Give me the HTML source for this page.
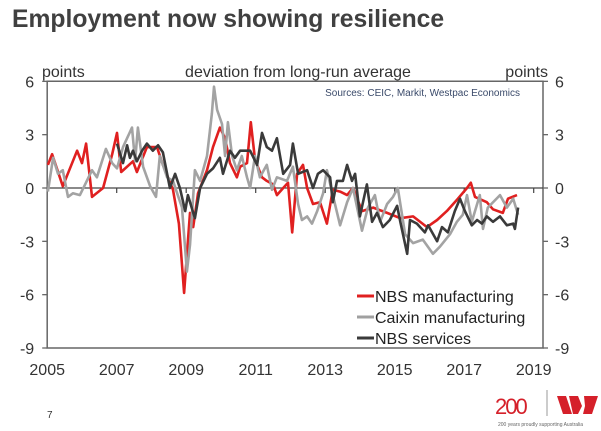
<!DOCTYPE html>
<html><head><meta charset="utf-8"><style>
body{margin:0;background:#fff;width:601px;height:431px;overflow:hidden;font-family:"Liberation Sans",sans-serif;}
</style></head><body>
<svg width="601" height="431" style="position:absolute;left:0;top:0">
<text x="12" y="27" font-size="24.7" font-weight="bold" fill="#404040">Employment now showing resilience</text>
<g font-size="16" fill="#333">
<text x="42" y="77">points</text>
<text x="298" y="77" text-anchor="middle">deviation from long-run average</text>
<text x="548" y="77" text-anchor="end">points</text>
</g>
<text x="520" y="96" font-size="10" text-anchor="end" fill="#3a4a6a">Sources: CEIC, Markit, Westpac Economics</text>
<g id="axes"></g>
<g id="series"></g>
<g font-size="16" fill="#222">
<line x1="357" y1="296" x2="374" y2="296" stroke="#e02020" stroke-width="3"/>
<text x="375" y="302">NBS manufacturing</text>
<line x1="357" y1="317" x2="374" y2="317" stroke="#a0a0a0" stroke-width="3"/>
<text x="375" y="323">Caixin manufacturing</text>
<line x1="357" y1="338" x2="374" y2="338" stroke="#3a3a3a" stroke-width="3"/>
<text x="375" y="344">NBS services</text>
</g>
<text x="47" y="418" font-size="10" fill="#333">7</text>
<g>
<text x="495" y="414" font-size="22" fill="#d5202a" letter-spacing="-2">200</text>
<line x1="547" y1="390" x2="547" y2="416" stroke="#999" stroke-width="1"/>
<polygon points="557,396 566,396 572,414 563,414" fill="#d5202a"/>
<polygon points="569,396 578,396 582,406 578,414 573,414" fill="#d5202a"/>
<polygon points="584,396 598,396 592,414 583,414 585,406" fill="#d5202a"/>
<text x="498" y="426" font-size="5" fill="#666">200 years proudly supporting Australia</text>
</g>
</svg>
<script>
const yTicks=[6,3,0,-3,-6,-9];
const xTickYears=[2005,2007,2009,2011,2013,2015,2017,2019];
const nbsMfgYears=[2005.02,2005.14,2005.45,2005.86,2006.0,2006.12,2006.29,2006.61,2006.87,2007.01,2007.13,2007.47,2007.58,2007.87,2008.16,2008.33,2008.62,2008.79,2008.94,2009.11,2009.2,2009.34,2009.6,2009.77,2009.97,2010.12,2010.26,2010.46,2010.55,2010.75,2010.86,2010.98,2011.18,2011.32,2011.5,2011.61,2011.79,2011.93,2012.05,2012.19,2012.36,2012.48,2012.65,2012.85,2013.05,2013.22,2013.43,2013.63,2013.8,2014.06,2014.38,2014.78,2015.16,2015.53,2015.93,2016.22,2016.5,2016.82,2017.08,2017.19,2017.31,2017.65,2017.83,2018.11,2018.26,2018.52];
const nbsMfgValues=[1.3,1.9,0.1,2.1,1.4,2.5,-0.5,0,1.9,3.1,0.9,1.5,0.9,2.3,2.3,1.3,-0.1,-2.0,-5.9,-1.4,-2.2,-0.3,1.0,2.3,3.4,2.8,1.4,0.6,1.2,1.4,3.7,1.6,0.6,0.4,0.2,-0.4,0,0.3,-2.5,0.8,1.3,0,-0.9,-0.8,-2.0,-0.1,-0.2,-0.4,0,-1.3,-1.1,-1.4,-1.7,-1.6,-2.2,-1.8,-1.3,-0.6,0,0.3,-0.5,-0.8,-1.2,-1.4,-0.6,-0.4];
const caixinYears=[2005.02,2005.17,2005.31,2005.45,2005.6,2005.74,2005.94,2006.09,2006.29,2006.43,2006.69,2006.87,2007.01,2007.18,2007.44,2007.53,2007.61,2007.76,2007.96,2008.13,2008.24,2008.45,2008.62,2008.88,2009.02,2009.11,2009.25,2009.4,2009.6,2009.74,2009.8,2009.89,2010.03,2010.12,2010.2,2010.32,2010.46,2010.6,2010.75,2010.84,2010.98,2011.12,2011.32,2011.47,2011.61,2011.9,2012.07,2012.22,2012.33,2012.48,2012.62,2012.77,2012.94,2013.05,2013.22,2013.43,2013.63,2013.8,2014.06,2014.23,2014.43,2014.58,2014.78,2014.95,2015.09,2015.3,2015.53,2015.81,2016.1,2016.3,2016.59,2016.79,2016.96,2017.08,2017.22,2017.45,2017.54,2017.68,2018.03,2018.23,2018.41,2018.55];
const caixinValues=[-0.2,1.7,0.8,1.0,-0.5,-0.3,-0.4,0.2,1.0,0.6,2.2,1.4,1.1,2.3,3.4,1.5,3.4,1.2,0.1,-0.5,1.8,0.6,0.4,-1.1,-4.7,-3.2,1.0,0.4,1.8,4.2,5.7,4.4,3.6,1.8,3.7,1.8,1.0,1.8,0.6,0,1.8,0.6,1.3,-0.1,0.6,0.4,1.2,-0.9,-1.8,-1.6,-2.0,-1.3,-0.3,1.0,-0.4,-2.1,-0.8,0,-2.4,-1.1,-0.4,-1.9,-0.9,-0.5,0,-2.6,-3.1,-2.9,-3.7,-3.3,-2.6,-1.9,-1.5,-0.4,-1.9,-0.4,-2.3,-1.1,-0.4,-1.1,-0.6,-1.5];
const nbsSvcYears=[2007.01,2007.18,2007.3,2007.38,2007.47,2007.58,2007.73,2007.87,2008.04,2008.19,2008.33,2008.53,2008.68,2008.82,2008.97,2009.05,2009.25,2009.4,2009.6,2009.77,2009.97,2010.06,2010.26,2010.4,2010.55,2010.84,2011.04,2011.18,2011.32,2011.47,2011.61,2011.79,2011.99,2012.07,2012.22,2012.48,2012.65,2012.79,2012.94,2013.14,2013.22,2013.34,2013.51,2013.63,2013.77,2013.86,2014.0,2014.2,2014.35,2014.49,2014.66,2014.86,2015.07,2015.16,2015.36,2015.44,2015.64,2015.87,2015.96,2016.22,2016.36,2016.53,2016.73,2016.88,2017.02,2017.22,2017.37,2017.51,2017.65,2017.83,2018.03,2018.23,2018.41,2018.46,2018.55];
const nbsSvcValues=[2.5,1.4,2.4,1.7,2.1,1.5,2.1,2.5,2.1,2.4,2.0,0,0.8,0,-1.3,-0.4,-1.7,0,0.8,1.1,1.7,0.8,2.1,1.7,2.1,2.1,1.3,3.1,2.3,2.1,2.8,0.8,1.3,2.5,0.8,1.0,0,0.8,1.0,0.6,-0.8,0.4,0.4,1.3,0.4,0.8,-1.6,0.2,-1.9,-1.4,-2.2,-1.8,-1.0,-1.9,-3.7,-1.8,-2.0,-2.5,-2.1,-3.0,-2.2,-2.5,-1.3,-0.6,-1.3,-2.1,-1.8,-2.0,-1.6,-1.9,-1.6,-2.1,-2.0,-2.3,-1.1];

const NS='http://www.w3.org/2000/svg';
const L=47.2,R=543,T=81.3,B=348;
const xS=y=>L+(y-2005)*34.75;
const yS=v=>188-v*(160/9);
const axes=document.getElementById('axes'),ser=document.getElementById('series');
function mk(tag,at,par){const e=document.createElementNS(NS,tag);for(const k in at)e.setAttribute(k,at[k]);par.appendChild(e);return e;}
const frame=mk('path',{d:`M${L},${T}H${R}V${B}H${L}Z`,fill:'none',stroke:'#666','stroke-width':1.5},axes);


const zl=mk('line',{x1:L,x2:R,y1:yS(0),y2:yS(0),stroke:'#444','stroke-width':1.3},axes);


yTicks.forEach(v=>{
  const y=yS(v);
  mk('line',{x1:L-5,x2:L,y1:y,y2:y,stroke:'#666','stroke-width':1.3},axes);
  mk('line',{x1:R,x2:R+5,y1:y,y2:y,stroke:'#666','stroke-width':1.3},axes);
  const t1=mk('text',{x:L-13,y:y+6,'text-anchor':'end','font-size':16,fill:'#333'},axes);t1.textContent=v;
  
  
  const t2=mk('text',{x:R+12,y:y+6,'font-size':16,fill:'#333'},axes);t2.textContent=v;
  
  
});
xTickYears.forEach(yr=>{
  const x=xS(yr);
  if(yr>2005)mk('line',{x1:x,x2:x,y1:yS(0),y2:yS(0)+5,stroke:'#444','stroke-width':1.2},axes);
  const t=mk('text',{x:x,y:375,'text-anchor':'middle','font-size':16,fill:'#333'},axes);t.textContent=yr;
  
  
});
function line(xs,vs,col,name){
  const d=xs.map((x,i)=>(i?'L':'M')+xS(x).toFixed(1)+','+yS(vs[i]).toFixed(1)).join('');
  const p=mk('path',{d:d,fill:'none',stroke:col,'stroke-width':2.6,'stroke-linejoin':'round'},ser);
  
  
}
line(nbsMfgYears,nbsMfgValues,'#e02020','nbs-manufacturing-line');
line(caixinYears,caixinValues,'#a3a3a3','caixin-manufacturing-line');
line(nbsSvcYears,nbsSvcValues,'#3a3a3a','nbs-services-line');
</script>
</body></html>
